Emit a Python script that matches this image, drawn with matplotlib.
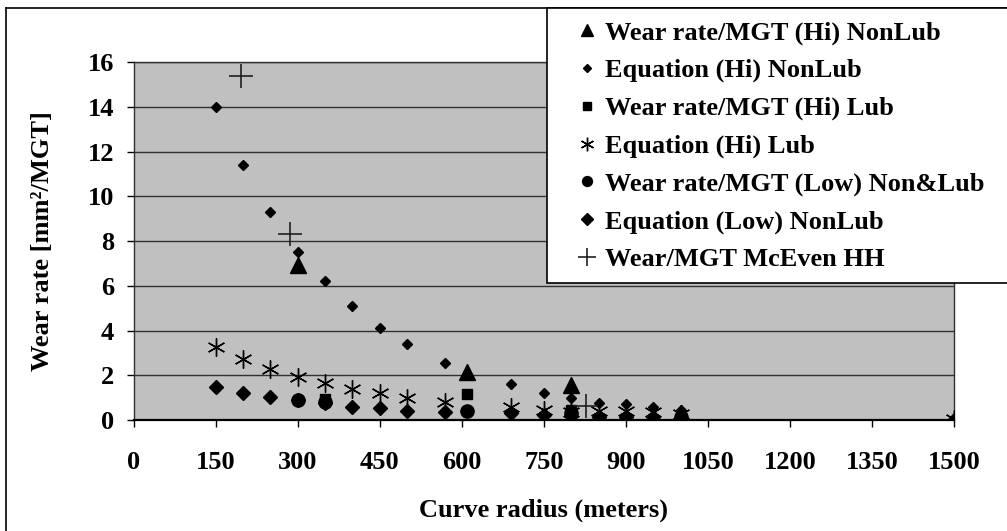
import numpy as np
import matplotlib
matplotlib.use('Agg')
import matplotlib.pyplot as plt
from matplotlib.lines import Line2D
from matplotlib.patches import Rectangle

plt.rcParams['font.family'] = ['Liberation Serif', 'DejaVu Serif']
plt.rcParams['font.weight'] = 'bold'

# dados
raio_med_hi = [300, 610, 800, 1000]
wear_hi_nonlub = [6.95, 2.15, 1.56, 0.3]

raio_eq = [150, 200, 250, 300, 350, 400, 450, 500, 570, 690, 750, 800, 850, 900, 950, 1000, 1500]
eq_hi_nonlub = [14.0, 11.4, 9.3, 7.5, 6.2, 5.1, 4.1, 3.4, 2.55, 1.6, 1.22, 1.0, 0.77, 0.7, 0.6, 0.45, 0.05]
eq_hi_lub = [3.27, 2.72, 2.3, 1.93, 1.67, 1.39, 1.22, 0.97, 0.82, 0.6, 0.45, 0.38, 0.4, 0.4, 0.35, 0.25, 0.05]
eq_low_nonlub = [1.46, 1.22, 1.04, 0.9, 0.75, 0.59, 0.52, 0.42, 0.37, 0.3, 0.22, 0.2, 0.13, 0.12, 0.12, 0.1, 0.02]

raio_med_lub = [350, 610, 800, 1000]
wear_hi_lub = [0.95, 1.15, 0.45, 0.2]

raio_med_low = [300, 350, 610, 800, 1000]
wear_low = [0.89, 0.8, 0.4, 0.3, 0.15]

raio_mceven = [196, 286, 828]
wear_mceven = [15.37, 8.3, 0.64]

fig = plt.figure(figsize=(10.07, 5.31), dpi=100)
ax = fig.add_axes([0.1328, 0.209, 0.8145, 0.674])
ax.set_facecolor('#c0c0c0')

ax.plot(raio_med_hi, wear_hi_nonlub, ls='none', marker='^', ms=11, color='black',
        label='Wear rate/MGT (Hi) NonLub', zorder=5)
ax.plot(raio_eq, eq_hi_nonlub, ls='none', marker='D', ms=5, color='black',
        label='Equation (Hi) NonLub', zorder=4)
ax.plot(raio_med_lub, wear_hi_lub, ls='none', marker='s', ms=7.5, color='black',
        label='Wear rate/MGT (Hi) Lub', zorder=5)
ax.plot(raio_eq, eq_hi_lub, ls='none', marker=(6, 2, 0), ms=13, mew=1.0, color='black',
        label='Equation (Hi) Lub', zorder=4)
ax.plot(raio_med_low, wear_low, ls='none', marker='o', ms=9.5, color='black',
        label='Wear rate/MGT (Low) Non&Lub', zorder=5)
ax.plot(raio_eq, eq_low_nonlub, ls='none', marker='D', ms=7.5, color='black',
        label='Equation (Low) NonLub', zorder=4)
ax.plot(raio_mceven, wear_mceven, ls='none', marker='+', ms=17, mew=1.2, color='#202020',
        label='Wear/MGT McEven HH', zorder=6)

ax.set_xlim(0, 1500)
ax.set_ylim(0, 16)
ax.set_xticks(np.arange(0, 1501, 150))
ax.set_yticks(np.arange(0, 17, 2))
ax.grid(axis='y', color='#303030', lw=1.0)
ax.set_axisbelow(True)
for s in ['top', 'right', 'left']:
    ax.spines[s].set_color('#303030')
    ax.spines[s].set_linewidth(1.0)
ax.spines['bottom'].set_color('black')
ax.spines['bottom'].set_linewidth(1.6)

ax.tick_params(axis='x', direction='out', length=5, width=1, labelsize=19, pad=17)
ax.tick_params(axis='y', direction='out', length=5, width=1, labelsize=19, pad=9)
for t in ax.get_xticklabels() + ax.get_yticklabels():
    t.set_fontweight('bold')

ax.set_xlabel('Curve radius (meters)', fontsize=19, fontweight='bold', labelpad=18)
ax.set_ylabel('Wear rate [mm²/MGT]', fontsize=19, fontweight='bold', labelpad=24)

# caixa da legenda
fig.add_artist(Rectangle((547 / 1007, 1 - 283 / 531), 470 / 1007, 275 / 531,
                         transform=fig.transFigure, facecolor='white',
                         edgecolor='black', lw=1.2, zorder=9))

leg = fig.legend(loc='upper left', bbox_to_anchor=(561 / 1007, 1 - 8 / 531),
                 frameon=False, handlelength=1.0, handletextpad=0.2,
                 labelspacing=0.53, borderpad=0.48, borderaxespad=0, markerscale=0.75,
                 prop={'family': 'Liberation Serif', 'weight': 'bold', 'size': 19})
leg.set_zorder(10)

# borda do grafico
fig.add_artist(Line2D([6 / 1007, 6 / 1007], [0, 1 - 8 / 531], color='black', lw=1.2,
                      transform=fig.transFigure))
fig.add_artist(Line2D([6 / 1007, 1], [1 - 8 / 531, 1 - 8 / 531], color='black', lw=1.2,
                      transform=fig.transFigure))

fig.savefig('out.png', dpi=100)
